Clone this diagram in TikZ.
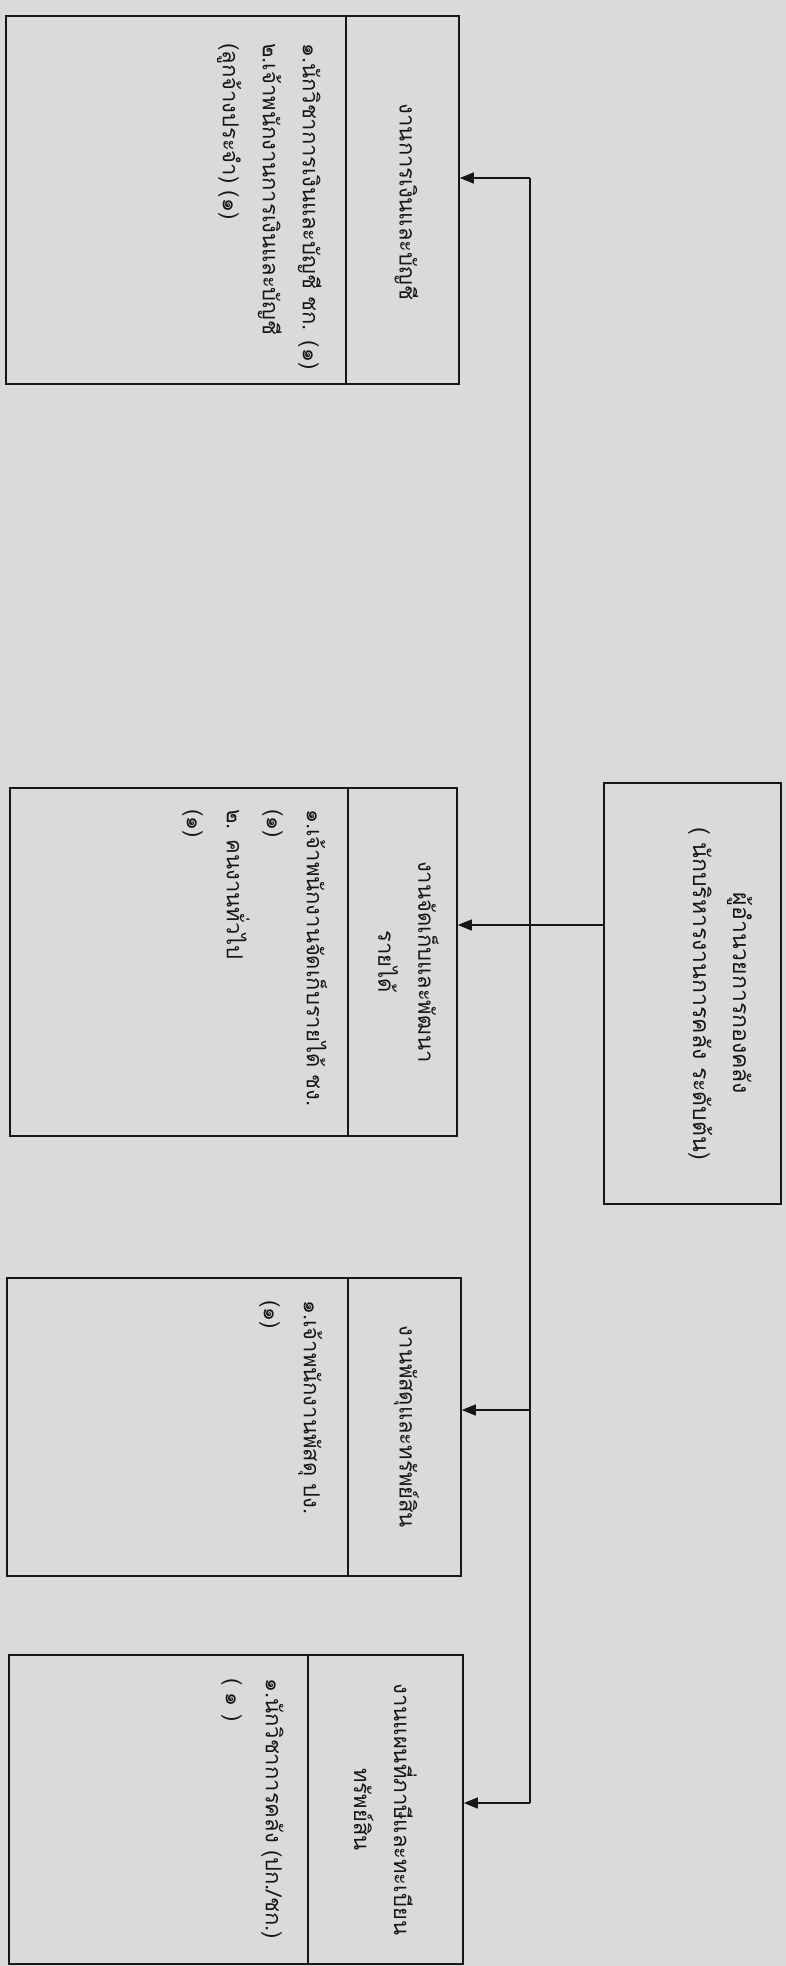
\documentclass[tikz,border=0pt]{standalone}
\usepackage{fontspec}
\newfontfamily\thai[Script=Thai]{Loma}
\usetikzlibrary{arrows.meta,calc}
\definecolor{paper}{RGB}{218,218,216}
\definecolor{ink}{RGB}{22,22,22}
\tikzset{
  unitbox/.style={draw=ink, line width=1.8pt, inner sep=0pt, anchor=north west},
  txt/.style={rotate=-90, text=ink, font=\thai\fontsize{22}{40}\selectfont, inner sep=0pt},
  head/.style={txt, align=center, anchor=center, font=\thai\fontsize{22}{40}\selectfont},
  body/.style={txt, align=left, anchor=base west},
  link/.style={draw=ink, line width=1.4pt},
  arr/.style={link, -{Triangle[length=14pt,width=11pt]}}
}
\begin{document}
\begin{tikzpicture}[x=1pt,y=-1pt]
\fill[paper] (0,0) rectangle (786,1966);
\useasboundingbox (0,0) rectangle (786,1966);

% top box
\node[unitbox, minimum width=177pt, minimum height=421pt] (top) at (603,782) {};
\node[head, font=\thai\fontsize{23}{40}\selectfont] (toptxt) at ($(top.center)+(28,0)$) {ผู้อำนวยการกองคลัง\\( นักบริหารงานการคลัง ระดับต้น)};

% unit 1
\node[unitbox, minimum width=113pt, minimum height=368pt] (h1) at (345,15) {};
\node[unitbox, minimum width=340pt, minimum height=368pt] (b1) at (5,15) {};
\node[head] (h1t) at ($(h1.center)+(4,2)$) {งานการเงินและบัญชี};
\node[body] (b1t) at ($(b1.north east)+(-124,28)$) {๑.นักวิชาการเงินและบัญชี ชก. (๑)\\๒.เจ้าพนักงานการเงินและบัญชี\\(ลูกจ้างประจำ) (๑)};

% unit 2
\node[unitbox, minimum width=109pt, minimum height=348pt] (h2) at (347,787) {};
\node[unitbox, minimum width=338pt, minimum height=348pt] (b2) at (9,787) {};
\node[head] (h2t) at ($(h2.center)+(6,0)$) {งานจัดเก็บและพัฒนา\\รายได้};
\node[body] (b2t) at ($(b2.north east)+(-162,22)$) {๑.เจ้าพนักงานจัดเก็บรายได้ ชง.\\(๑)\\๒. คนงานทั่วไป\\(๑)};

% unit 3
\node[unitbox, minimum width=113pt, minimum height=298pt] (h3) at (347,1277) {};
\node[unitbox, minimum width=341pt, minimum height=298pt] (b3) at (6,1277) {};
\node[head] (h3t) at ($(h3.center)+(2,0)$) {งานพัสดุและทรัพย์สิน};
\node[body] (b3t) at ($(b3.north east)+(-85,23)$) {๑.เจ้าพนักงานพัสดุ ปง.\\(๑)};

% unit 4
\node[unitbox, minimum width=155pt, minimum height=309pt] (h4) at (307,1654) {};
\node[unitbox, minimum width=299pt, minimum height=309pt] (b4) at (8,1654) {};
\node[head] (h4t) at (h4.center) {งานแผนที่ภาษีและทะเบียน\\ทรัพย์สิน};
\node[body] (b4t) at ($(b4.north east)+(-83,24)$) {๑.นักวิชาการคลัง (ปก./ชก.)\\( ๑ )};

% connectors
\coordinate (j1) at (530,178);
\coordinate (j2) at (530,925);
\coordinate (j3) at (530,1410);
\coordinate (j4) at (530,1803);
\draw[link] (j1) -- (j4);
\draw[arr] (j1) -- (h1.east |- j1);
\draw[arr] (top.west |- j2) -- (h2.east |- j2);
\draw[arr] (j3) -- (h3.east |- j3);
\draw[arr] (j4) -- (h4.east |- j4);
\end{tikzpicture}
\end{document}
